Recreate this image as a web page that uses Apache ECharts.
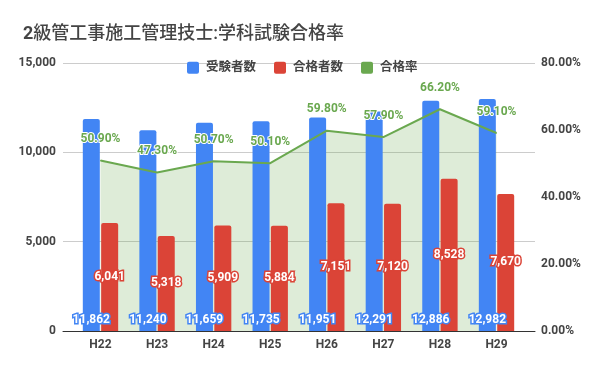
<!DOCTYPE html>
<html><head><meta charset="utf-8">
<script src="https://cdn.jsdelivr.net/npm/echarts@6/dist/echarts.min.js"></script>
<style>html,body{margin:0;padding:0;background:#fff}#c{width:600px;height:371px}</style>
</head><body><div id="c"></div>
<script>
const categories = ['H22','H23','H24','H25','H26','H27','H28','H29'];
const applicants = [11862,11240,11659,11735,11951,12291,12886,12982];
const passers = [6041,5318,5909,5884,7151,7120,8528,7670];
const passRate = [50.9,47.3,50.7,50.1,59.8,57.9,66.2,59.1];
const seriesNames = ['受験者数','合格者数','合格率'];
const titleLead = '2';
const titleRest = '級管工事施工管理技士:学科試験合格率';

const FONT = 'Roboto, "Noto Sans CJK JP", sans-serif';
const BLUE = '#4285f4', RED = '#db4437', GREEN = '#6aa84f';
const fmtNum = v => Number(v).toLocaleString('en-US');

const chart = echarts.init(document.getElementById('c'));
const barLabel = (c, pos, dist) => ({
  show: true, position: pos, distance: dist,
  color: '#fff', fontWeight: 'bold', fontSize: 12, fontFamily: FONT,
  textBorderColor: c, textBorderWidth: 3,
  formatter: p => fmtNum(p.value)
});
chart.setOption({
  animation: false,
  backgroundColor: '#fff',
  title: {
    text: '{a|' + titleLead + '}{b|' + titleRest + '}', left: 18, top: 21,
    textStyle: {
      fontSize: 18, color: '#444', fontFamily: FONT,
      rich: {
        a: { fontSize: 18, fontWeight: 'bold', color: '#444', fontFamily: FONT },
        b: { fontSize: 18, fontWeight: 500, color: '#444', fontFamily: FONT }
      }
    }
  },
  legend: {
    data: [
      { name: seriesNames[0], itemStyle: { color: BLUE } },
      { name: seriesNames[1], itemStyle: { color: RED } },
      { name: seriesNames[2], itemStyle: { color: GREEN } }
    ],
    left: 182, top: 56.5,
    icon: 'path://M2,0H10A2,2,0,0,1,12,2V10A2,2,0,0,1,10,12H2A2,2,0,0,1,0,10V2A2,2,0,0,1,2,0Z',
    itemWidth: 12, itemHeight: 12, itemGap: 18,
    textStyle: { fontSize: 12.5, fontWeight: 'bold', color: '#444', fontFamily: FONT, padding: [0, 0, 0, 2] }
  },
  grid: [
    { left: 72.2, right: 75.2, top: 63, bottom: 40 },
    { left: 63, right: 65, top: 63, bottom: 40 }
  ],
  xAxis: [
    { gridIndex: 0, type: 'category', data: categories,
      axisLine: { show: false }, axisTick: { show: false },
      axisLabel: { color: '#444', fontWeight: 'bold', fontSize: 12, fontFamily: FONT, margin: 8 } },
    { gridIndex: 1, type: 'value', min: 0, max: 1,
      axisLine: { show: true, onZero: false, lineStyle: { color: '#333', width: 1 } },
      axisTick: { show: false }, axisLabel: { show: false }, splitLine: { show: false } }
  ],
  yAxis: [
    { gridIndex: 1, type: 'value', min: 0, max: 15000, interval: 5000, position: 'left',
      axisLine: { show: false }, axisTick: { show: false },
      axisLabel: { color: '#444', fontWeight: 'bold', fontSize: 12, fontFamily: FONT, margin: 7, formatter: v => fmtNum(v) },
      splitLine: { lineStyle: { color: '#ccc', width: 1 } } },
    { gridIndex: 1, type: 'value', min: 0, max: 80, interval: 20, position: 'right',
      axisLine: { show: false }, axisTick: { show: false },
      axisLabel: { color: '#444', fontWeight: 'bold', fontSize: 12, fontFamily: FONT, margin: 6, formatter: v => v.toFixed(2) + '%' },
      splitLine: { show: false } },
    { gridIndex: 0, type: 'value', min: 0, max: 15000, show: false },
    { gridIndex: 0, type: 'value', min: 0, max: 80, show: false }
  ],
  series: [
    { name: seriesNames[2], type: 'line', xAxisIndex: 0, yAxisIndex: 3, data: passRate,
      z: 1, symbol: 'none', lineStyle: { width: 0, color: GREEN }, itemStyle: { color: GREEN },
      areaStyle: { color: 'rgba(106,168,79,0.32)' }, silent: true },
    { name: seriesNames[0], type: 'bar', xAxisIndex: 0, yAxisIndex: 2, data: applicants,
      z: 2, barWidth: 17, barGap: '8%', itemStyle: { color: BLUE, borderRadius: [2, 2, 0, 0] },
      label: barLabel(BLUE, 'insideBottom', 5) },
    { name: seriesNames[1], type: 'bar', xAxisIndex: 0, yAxisIndex: 2, data: passers,
      z: 2, barWidth: 17, barGap: '8%', itemStyle: { color: RED, borderRadius: [2, 2, 0, 0] },
      label: barLabel(RED, 'inside', 0) },
    { name: seriesNames[2], type: 'line', xAxisIndex: 0, yAxisIndex: 3, data: passRate,
      z: 3, symbol: 'circle', symbolSize: 1, itemStyle: { color: GREEN },
      lineStyle: { width: 2, color: GREEN },
      label: { show: true, position: 'top', distance: 15, color: GREEN, fontWeight: 'bold', fontSize: 12, fontFamily: FONT,
        textBorderColor: '#fff', textBorderWidth: 2, formatter: p => p.value.toFixed(2) + '%' } }
  ]
});
</script></body></html>
